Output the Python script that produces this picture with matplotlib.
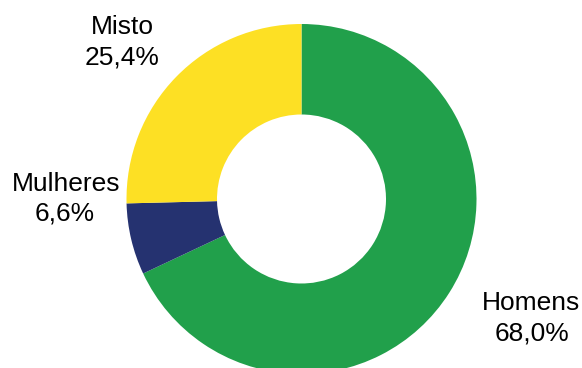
import matplotlib
matplotlib.use("Agg")
import matplotlib.pyplot as plt

categories = ["Homens", "Mulheres", "Misto"]
shares = [68.0, 6.6, 25.4]
colors = ["#21A04B", "#253270", "#FDE024"]

W, H = 582, 368
fig = plt.figure(figsize=(W / 100, H / 100), dpi=100)

# donut centred at (301.5, 169) px from bottom-left, outer radius 175 px
cx, cy, r = 301.5, 169.0, 175.0
ax = fig.add_axes([(cx - r) / W, (cy - r) / H, 2 * r / W, 2 * r / H])
ax.pie(shares, colors=colors, startangle=90, counterclock=False,
       radius=1.0, wedgeprops=dict(width=1 - 84.5 / 175.0, linewidth=0))
ax.set_xlim(-1, 1)
ax.set_ylim(-1, 1)
ax.set_aspect("equal")
ax.axis("off")

# label anchor points in pixels (x, y from top) for name and value lines
label_pos = {
    "Homens": ((531, 303), (532, 333)),
    "Mulheres": ((66, 184), (65, 213)),
    "Misto": ((122, 27), (122, 57)),
}
font = dict(family=["Liberation Sans", "DejaVu Sans"], size=19, color="#000000")
for name, val in zip(categories, shares):
    (x1, y1), (x2, y2) = label_pos[name]
    fig.text(x1 / W, 1 - y1 / H, name, ha="center", va="center", **font)
    fig.text(x2 / W, 1 - y2 / H, f"{val:.1f}%".replace(".", ","),
             ha="center", va="center", **font)

fig.savefig("out.png", dpi=100)
